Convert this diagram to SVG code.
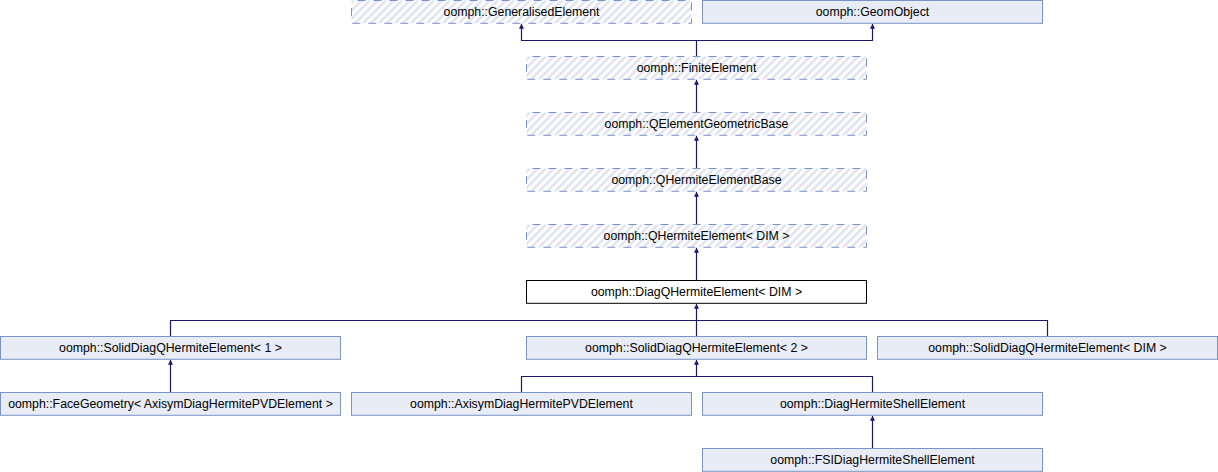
<svg xmlns="http://www.w3.org/2000/svg" width="1218" height="472" viewBox="0 0 1218 472">
<style>
.box{fill:#e8ecf5;stroke:#7b93c9;stroke-width:1}
.hatch{fill:url(#hp);stroke:#7b93c9;stroke-width:1;stroke-dasharray:8,8;stroke-dashoffset:-6}
.cur{fill:#ffffff;stroke:#000000;stroke-width:1}
text{font-family:"Liberation Sans",Arial,sans-serif;font-size:12.3px;fill:#000000;text-anchor:middle}
.edge{fill:none;stroke:#191970;stroke-width:1.2}
</style>
<defs>
<pattern id="hp" patternUnits="userSpaceOnUse" width="5.66" height="5.66" patternTransform="rotate(45)">
<rect x="0" y="0" width="5.66" height="5.66" fill="#ffffff"/>
<rect x="0" y="0" width="2.8" height="5.66" fill="#e1e6f1"/>
</pattern>
<marker id="arr" viewBox="0 0 10 10" refX="10" refY="5" markerUnits="userSpaceOnUse" markerWidth="6" markerHeight="5" orient="auto">
<path d="M0,0 L10,5 L0,10 z" fill="#191970"/>
</marker>
</defs>
<g id="edges">
<path class="edge" d="M696.5,56.5 V40.5 H521.5 V23.8" marker-end="url(#arr)"/>
<path class="edge" d="M696.5,40.5 H872.5 V23.8" marker-end="url(#arr)"/>
<path class="edge" d="M696.5,112.5 V79.8" marker-end="url(#arr)"/>
<path class="edge" d="M696.5,168.5 V135.8" marker-end="url(#arr)"/>
<path class="edge" d="M696.5,224.5 V191.8" marker-end="url(#arr)"/>
<path class="edge" d="M696.5,280.5 V247.8" marker-end="url(#arr)"/>
<path class="edge" d="M170.5,336.5 V320.5 H1047.5 V336.5"/>
<path class="edge" d="M696.5,336.5 V303.8" marker-end="url(#arr)"/>
<path class="edge" d="M170.5,392.5 V359.8" marker-end="url(#arr)"/>
<path class="edge" d="M521.5,392.5 V376.5 H872.5 V392.5"/>
<path class="edge" d="M696.5,376.5 V359.8" marker-end="url(#arr)"/>
<path class="edge" d="M872.5,448.5 V415.8" marker-end="url(#arr)"/>
</g>
<g id="n_generalised"><rect class="hatch" x="351.5" y="0.5" width="340" height="22.8"/><text x="521.5" y="16.3">oomph::GeneralisedElement</text></g>
<g id="n_geomobject"><rect class="box" x="702.5" y="0.5" width="340" height="22.8"/><text x="872.5" y="16.3">oomph::GeomObject</text></g>
<g id="n_finite"><rect class="hatch" x="526.5" y="56.5" width="340" height="22.8"/><text x="696.5" y="72.3">oomph::FiniteElement</text></g>
<g id="n_qgeom"><rect class="hatch" x="526.5" y="112.5" width="340" height="22.8"/><text x="696.5" y="128.3">oomph::QElementGeometricBase</text></g>
<g id="n_qhermbase"><rect class="hatch" x="526.5" y="168.5" width="340" height="22.8"/><text x="696.5" y="184.3">oomph::QHermiteElementBase</text></g>
<g id="n_qherm"><rect class="hatch" x="526.5" y="224.5" width="340" height="22.8"/><text x="696.5" y="240.3">oomph::QHermiteElement&lt; DIM &gt;</text></g>
<g id="n_diag"><rect class="cur" x="526.5" y="280.5" width="340" height="22.8"/><text x="696.5" y="296.3">oomph::DiagQHermiteElement&lt; DIM &gt;</text></g>
<g id="n_solid1"><rect class="box" x="0.5" y="336.5" width="340" height="22.8"/><text x="170.5" y="352.3">oomph::SolidDiagQHermiteElement&lt; 1 &gt;</text></g>
<g id="n_solid2"><rect class="box" x="526.5" y="336.5" width="340" height="22.8"/><text x="696.5" y="352.3">oomph::SolidDiagQHermiteElement&lt; 2 &gt;</text></g>
<g id="n_soliddim"><rect class="box" x="877.5" y="336.5" width="340" height="22.8"/><text x="1047.5" y="352.3">oomph::SolidDiagQHermiteElement&lt; DIM &gt;</text></g>
<g id="n_face"><rect class="box" x="0.5" y="392.5" width="340" height="22.8"/><text x="170.5" y="408.3">oomph::FaceGeometry&lt; AxisymDiagHermitePVDElement &gt;</text></g>
<g id="n_axisym"><rect class="box" x="351.5" y="392.5" width="340" height="22.8"/><text x="521.5" y="408.3">oomph::AxisymDiagHermitePVDElement</text></g>
<g id="n_shell"><rect class="box" x="702.5" y="392.5" width="340" height="22.8"/><text x="872.5" y="408.3">oomph::DiagHermiteShellElement</text></g>
<g id="n_fsishell"><rect class="box" x="702.5" y="448.5" width="340" height="22.8"/><text x="872.5" y="464.3">oomph::FSIDiagHermiteShellElement</text></g>
</svg>
